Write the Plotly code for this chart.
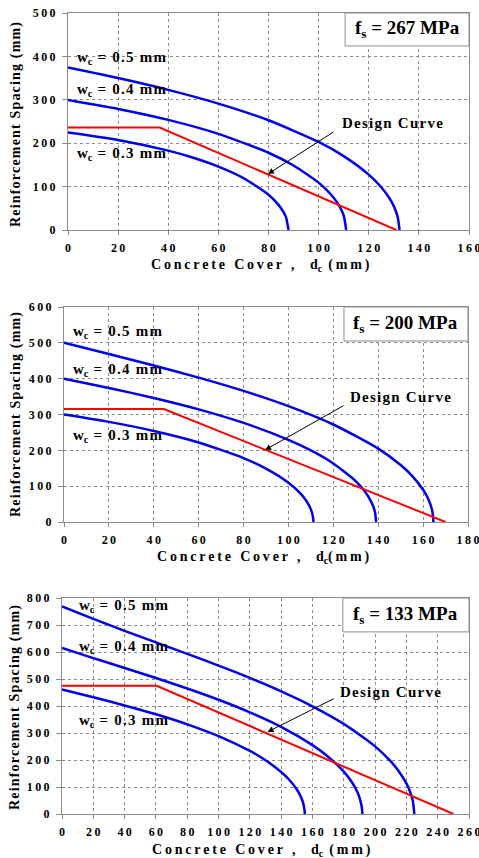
import plotly.graph_objects as go

# ---------------- data ----------------
# Panel 1 : fs = 267 MPa
p1_w05_dc = [0, 20, 40, 60, 80, 100, 110, 120, 125, 128, 130, 131.5, 132.3]
p1_w05_s = [374.5, 350.1, 322.9, 291.2, 252.8, 202.8, 170.2, 127.6, 98.6, 75.6, 55.0, 31.2, 0]
p1_w04_dc = [0, 20, 40, 60, 80, 90, 100, 105, 108, 110, 111]
p1_w04_s = [299.6, 279.0, 253.8, 221.6, 178.0, 148.6, 109.2, 81.2, 57.7, 33.4, 0]
p1_w03_dc = [0, 20, 40, 50, 60, 70, 80, 84, 86, 87, 88]
p1_w03_s = [224.7, 207.6, 182.8, 166.4, 146.0, 119.6, 81.3, 57.9, 41.0, 28.9, 0]
p1_design_dc = [0, 36.6, 131]
p1_design_s = [236, 236, 0]

# Panel 2 : fs = 200 MPa
p2_w05_dc = [0, 20, 40, 60, 80, 100, 120, 140, 150, 155, 160, 162, 164, 164.6]
p2_w05_s = [500, 468.7, 436.8, 403.0, 365.9, 323.4, 272.1, 204.9, 159.1, 129.6, 90.2, 68.1, 33.5, 0]
p2_w04_dc = [0, 20, 40, 60, 80, 100, 110, 120, 130, 134, 137, 138.5, 139.1]
p2_w04_s = [400, 374.2, 346.1, 314.3, 276.5, 229.2, 199.6, 163.3, 113.8, 85.5, 54.8, 29.0, 0]
p2_w03_dc = [0, 20, 40, 60, 80, 90, 100, 105, 108, 110, 111, 111.15]
p2_w03_s = [300, 279.4, 254.1, 222.0, 178.4, 149.1, 109.8, 82.0, 58.7, 35.2, 11.1, 0]
p2_design_dc = [0, 44.5, 170]
p2_design_s = [315, 315, 0]

# Panel 3 : fs = 133 MPa
p3_w05_dc = [0, 20, 40, 60, 80, 100, 120, 140, 160, 180, 200, 210, 215, 220, 222, 224, 225.1]
p3_w05_s = [769.2, 722.5, 678.4, 635.7, 593.2, 549.7, 504.0, 454.5, 399.0, 333.7, 250.5, 194.8, 159.5, 113.4, 88.2, 52.1, 0]
p3_w04_dc = [0, 20, 40, 60, 80, 100, 120, 140, 160, 170, 180, 185, 188, 190, 191.5, 191.9]
p3_w04_s = [615.4, 577.5, 540.7, 503.5, 464.8, 423.1, 376.6, 322.5, 255.0, 212.2, 157.0, 119.6, 89.6, 61.8, 26.0, 0]
p3_w03_dc = [0, 20, 40, 60, 80, 100, 120, 130, 140, 145, 150, 152, 154, 155, 155.1]
p3_w03_s = [461.6, 432.4, 402.1, 369.2, 332.2, 288.5, 233.7, 199.2, 155.6, 127.7, 91.0, 70.9, 41.9, 10.4, 0]
p3_design_dc = [0, 60.5, 250]
p3_design_s = [475, 475, 0]

x_max = [160, 180, 260]
y_max = [500, 600, 800]
fs_labels = ["267", "200", "133"]
wc_labels = ["0.5", "0.4", "0.3"]

# ---------------- styling ----------------
FONT = "Liberation Serif"
BLUE = "#0000F0"
RED = "#FF0000"
GRID = "#8c8c8c"
FRAME = "#8c8c8c"
TS = "\u2009"   # thin space
HS = "\u200A"   # hair space


def spaced(t, sep=TS):
    return sep.join(t)


fig = go.Figure()

panels = [
    (p1_w05_dc, p1_w05_s, p1_w04_dc, p1_w04_s, p1_w03_dc, p1_w03_s, p1_design_dc, p1_design_s),
    (p2_w05_dc, p2_w05_s, p2_w04_dc, p2_w04_s, p2_w03_dc, p2_w03_s, p2_design_dc, p2_design_s),
    (p3_w05_dc, p3_w05_s, p3_w04_dc, p3_w04_s, p3_w03_dc, p3_w03_s, p3_design_dc, p3_design_s),
]

W, H = 479, 858
# pixel frames of the three plot areas: (x0, x1, ytop, ybottom)
frames = [(68, 469, 13, 230), (64, 468, 307, 522), (62, 469, 598, 814)]

for i, pan in enumerate(panels):
    xa = "x" if i == 0 else f"x{i+1}"
    ya = "y" if i == 0 else f"y{i+1}"
    curves = [(pan[0], pan[1]), (pan[2], pan[3]), (pan[4], pan[5])]
    for dc, s in curves:
        fig.add_trace(go.Scatter(x=dc, y=s, mode="lines", xaxis=xa, yaxis=ya,
                                 line=dict(color=BLUE, width=2.5, shape="spline", smoothing=0.6),
                                 showlegend=False, hoverinfo="skip"))
    fig.add_trace(go.Scatter(x=pan[6], y=pan[7], mode="lines", xaxis=xa, yaxis=ya,
                             line=dict(color=RED, width=2),
                             showlegend=False, hoverinfo="skip"))

layout = dict(width=W, height=H, margin=dict(l=0, r=0, t=0, b=0, autoexpand=False),
              template="none",
              paper_bgcolor="white", plot_bgcolor="white", showlegend=False)

tickfont = dict(family=FONT, size=12, color="black", weight="bold")
for i, (x0, x1, yt, yb) in enumerate(frames):
    xk = "xaxis" if i == 0 else f"xaxis{i+1}"
    yk = "yaxis" if i == 0 else f"yaxis{i+1}"
    xname = "x" if i == 0 else f"x{i+1}"
    yname = "y" if i == 0 else f"y{i+1}"
    xt = list(range(0, x_max[i] + 1, 20))
    yt_ = list(range(0, y_max[i] + 1, 100))
    layout[xk] = dict(domain=[x0 / W, x1 / W], range=[0, x_max[i]], anchor=yname,
                      tickvals=xt, ticktext=[spaced(str(v)) for v in xt],
                      showgrid=True, gridcolor=GRID, griddash="dot", gridwidth=1,
                      showline=True, linecolor=FRAME, linewidth=1, mirror=True,
                      ticks="outside", ticklen=4, tickcolor=FRAME, tickfont=tickfont,
                      ticklabelstandoff=3, ticklabeloverflow="allow", automargin=False,
                      zeroline=False, fixedrange=True)
    layout[yk] = dict(domain=[(H - yb) / H, (H - yt) / H], range=[0, y_max[i]], anchor=xname,
                      tickvals=yt_, ticktext=[spaced(str(v)) for v in yt_],
                      showgrid=True, gridcolor=GRID, griddash="dot", gridwidth=1,
                      showline=True, linecolor=FRAME, linewidth=1, mirror=True,
                      ticks="outside", ticklen=5, tickcolor=FRAME, tickfont=tickfont,
                      ticklabelstandoff=4, ticklabeloverflow="allow", automargin=False,
                      zeroline=False, fixedrange=True)

fig.update_layout(**layout)

annotations = []
shapes = []

xtitles = [
    spaced("Concrete Cover ,  d") + "<sub>c</sub>" + spaced(" (mm)"),
    spaced("Concrete Cover ,  d") + "<sub>c</sub>" + spaced("(mm)"),
    spaced("Concrete Cover ,  d") + "<sub>c</sub>" + spaced(" (mm)"),
]
xtitle_pos = [(260, 265), (263, 557), (261, 850)]
ytitle_pos = [(16, 125), (16, 415), (15, 708)]
for i in range(3):
    px, py = xtitle_pos[i]
    annotations.append(dict(text=xtitles[i], xref="paper", yref="paper",
                            x=px / W, y=(H - py) / H, xanchor="center", yanchor="middle",
                            showarrow=False,
                            font=dict(family=FONT, size=14, color="black", weight="bold")))
    px, py = ytitle_pos[i]
    annotations.append(dict(text=spaced("Reinforcement Spacing (mm)", HS), xref="paper", yref="paper",
                            x=px / W, y=(H - py) / H, xanchor="center", yanchor="middle",
                            textangle=-90, showarrow=False,
                            font=dict(family=FONT, size=14, color="black", weight="bold")))

# wc labels: (dc, s) positions for each panel
wc_pos = [
    [(2.8, 396), (2.8, 323), (2.8, 175)],
    [(3.1, 530), (3.1, 424), (3.1, 240)],
    [(9.6, 770), (9.6, 618), (9.6, 344)],
]
design_text_pos = [(108.5, 246), (126.6, 349), (176, 452)]
arrow_tail = [(106.5, 228), (125.2, 327), (174.6, 430)]
arrow_tip = [(79.8, 129), (89.6, 201), (131.3, 304)]
box_x0 = [0.691, 0.693, 0.690]
box_y0 = [0.848, 0.842, 0.843]

for i in range(3):
    xa = "x" if i == 0 else f"x{i+1}"
    ya = "y" if i == 0 else f"y{i+1}"
    for j in range(3):
        dx, sy = wc_pos[i][j]
        txt = "w<sub>c</sub>" + spaced(" = " + wc_labels[j] + " mm", HS)
        annotations.append(dict(text=txt, xref=xa, yref=ya,
                                x=dx, y=sy, xanchor="left", yanchor="middle", showarrow=False,
                                font=dict(family=FONT, size=15, color="black", weight="bold")))
    dx, sy = design_text_pos[i]
    annotations.append(dict(text=spaced("Design Curve", HS), xref=xa, yref=ya, x=dx, y=sy,
                            xanchor="left", yanchor="middle", showarrow=False,
                            font=dict(family=FONT, size=15, color="black", weight="bold")))
    tx, ty = arrow_tip[i]
    ax_, ay_ = arrow_tail[i]
    annotations.append(dict(text="", xref=xa, yref=ya, x=tx, y=ty, ax=ax_, ay=ay_,
                            axref=xa, ayref=ya, showarrow=True, arrowhead=2, arrowsize=1.2,
                            arrowwidth=1, arrowcolor="black"))
    shapes.append(dict(type="rect", xref=f"{xa} domain", yref=f"{ya} domain",
                       x0=box_x0[i], x1=1, y0=box_y0[i], y1=1,
                       fillcolor="white", line=dict(color=FRAME, width=1), layer="above"))
    annotations.append(dict(text="f<sub>s</sub> = " + fs_labels[i] + " MPa",
                            xref=f"{xa} domain", yref=f"{ya} domain",
                            x=(box_x0[i] + 1) / 2, y=(box_y0[i] + 1) / 2,
                            xanchor="center", yanchor="middle", showarrow=False,
                            font=dict(family=FONT, size=19, color="black", weight="bold")))

fig.update_layout(annotations=annotations, shapes=shapes)
fig.write_html("out.html", config={"displayModeBar": False},
               post_script="document.body.style.margin='0px';document.body.style.overflow='hidden';")
